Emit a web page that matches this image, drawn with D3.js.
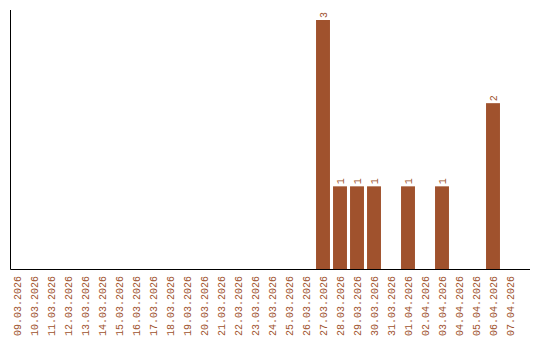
<!DOCTYPE html>
<html>
<head>
<meta charset="utf-8">
<script src="https://cdn.jsdelivr.net/npm/d3@7"></script>
<style>
  html, body { margin: 0; padding: 0; background: #fff; }
  svg { display: block; }
  text { font-family: "Liberation Mono", monospace; }
</style>
</head>
<body>
<svg id="chart" width="540" height="340"></svg>
<script>
const categories = ["09.03.2026","10.03.2026","11.03.2026","12.03.2026","13.03.2026","14.03.2026","15.03.2026","16.03.2026","17.03.2026","18.03.2026","19.03.2026","20.03.2026","21.03.2026","22.03.2026","23.03.2026","24.03.2026","25.03.2026","26.03.2026","27.03.2026","28.03.2026","29.03.2026","30.03.2026","31.03.2026","01.04.2026","02.04.2026","03.04.2026","04.04.2026","05.04.2026","06.04.2026","07.04.2026"];
const values = [0,0,0,0,0,0,0,0,0,0,0,0,0,0,0,0,0,0,3,1,1,1,0,1,0,1,0,0,2,0];

const color = "#a0522d";
const svg = d3.select("#chart");

const x = d3.scaleBand()
  .domain(categories)
  .range([8.5, 8.5 + 17 * 30])
  .paddingInner(0.18)
  .paddingOuter(0.09);

const y = d3.scaleLinear().domain([0, 3]).range([269.5, 20]);

const barData = categories.map((c, i) => ({c, v: values[i]})).filter(d => d.v > 0);

// bars
svg.append("g").selectAll("rect")
  .data(barData)
  .join("rect")
  .attr("x", d => x(d.c))
  .attr("y", d => y(d.v))
  .attr("width", x.bandwidth())
  .attr("height", d => y(0) - y(d.v))
  .attr("fill", color);

// value labels
svg.append("g").selectAll("text")
  .data(barData)
  .join("text")
  .attr("transform", d => `translate(${x(d.c) + x.bandwidth() / 2},${y(d.v) - 2}) rotate(-90)`)
  .attr("dy", "0.35em")
  .attr("text-anchor", "start")
  .attr("font-size", "10px")
  .attr("fill", color)
  .text(d => d.v);

// x axis
const xAxis = svg.append("g")
  .attr("transform", "translate(0,269.5)")
  .call(d3.axisBottom(x).tickSize(0).tickPadding(0));
xAxis.select(".domain").attr("d", "M10.5,0H530").attr("stroke", "#000");
xAxis.selectAll(".tick text")
  .attr("transform", "rotate(-90)")
  .attr("x", -6.5)
  .attr("y", 0)
  .attr("dy", "0.35em")
  .attr("text-anchor", "end")
  .attr("font-family", "Liberation Mono, monospace")
  .attr("font-size", "10px")
  .attr("fill", color);

// y axis line
svg.append("line")
  .attr("x1", 10.5).attr("x2", 10.5)
  .attr("y1", 10).attr("y2", 269.5)
  .attr("stroke", "#000");
</script>
</body>
</html>
